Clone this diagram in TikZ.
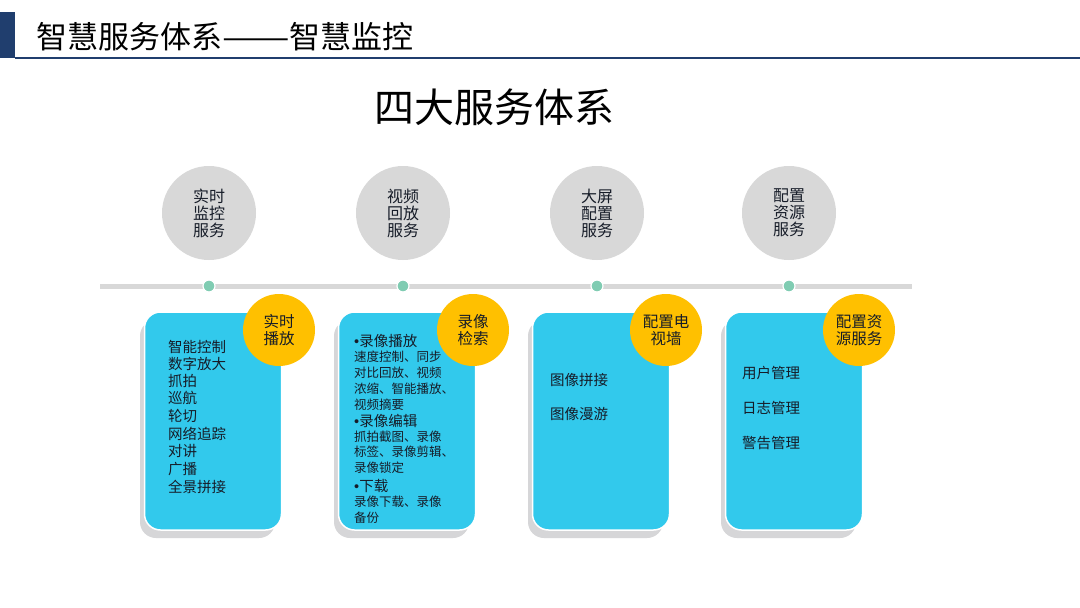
\documentclass[tikz,border=0pt]{standalone}
\usepackage{fontspec}
\setmainfont{Noto Sans CJK SC}
\newfontfamily\latinfont{Liberation Sans}
\usetikzlibrary{positioning}
\definecolor{navy}{RGB}{32,62,110}
\definecolor{discgray}{RGB}{216,216,216}
\definecolor{shadowgray}{RGB}{214,214,216}
\definecolor{cardcyan}{RGB}{50,201,236}
\definecolor{badgegold}{RGB}{255,192,0}
\definecolor{dotteal}{RGB}{128,204,178}
\definecolor{inktext}{RGB}{22,28,40}

\newcommand{\bul}{{\latinfont •}}

\tikzset{
  disc/.style={circle,fill=discgray,minimum size=94pt,inner sep=0pt,align=center,
    font=\fontsize{16}{17}\selectfont,text=inktext},
  card/.style={rounded corners=16pt,fill=cardcyan,draw=white,line width=1.5pt,
    minimum width=137pt,minimum height=218pt,inner sep=0pt},
  badge/.style={circle,fill=badgegold,minimum size=72pt,inner sep=0pt,align=center,
    font=\fontsize{15.5}{16.5}\selectfont,text=inktext},
  timedot/.style={circle,fill=dotteal,draw=white,line width=1.2pt,minimum size=12pt,inner sep=0pt},
  itembig/.style={anchor=west,inner sep=0pt,font=\fontsize{14.5}{15}\selectfont,text=inktext},
  itemsmall/.style={anchor=west,inner sep=0pt,font=\fontsize{12.5}{13}\selectfont,text=inktext}
}

\begin{document}
\begin{tikzpicture}[x=1pt,y=-1pt]

	\useasboundingbox[fill=white] (0,0) rectangle (1080,608);

	% header
	\fill[navy] (0,12) rectangle (15,58);
	\draw[navy,line width=1.8pt] (15,58)--(1080,58);
	\node[anchor=west,inner sep=0pt,font=\fontsize{31}{32}\selectfont] (head) at (36,37)
	{智慧服务体系\scalebox{1.3}[1]{——}智慧监控};

	\node[inner sep=0pt,font=\fontsize{40}{41}\selectfont] (bigtitle) at (494,107)
	{四大服务体系};

	% service discs
	\foreach \i/\x/\t in {1/209/{实时\\监控\\服务},2/403/{视频\\回放\\服务},
		3/597/{大屏\\配置\\服务},4/789/{配置\\资源\\服务}}
	\node[disc] (disc\i) at (\x,213) {\t};

	% time line
	\coordinate (lineL) at (100,286);
	\coordinate (lineR) at (912,286);
	\draw[discgray,line width=5pt] (lineL)--(lineR);
	\foreach \i/\x in {1/209,2/403,3/597,4/789}
	\node[timedot] (dot\i) at (\x,286) {};

	% cards
	\foreach \i/\cx/\bx/\t in {1/213/279/{实时\\播放},2/407/473/{录像\\检索},
		3/601/666/{配置电\\视墙},4/794/859/{配置资\\源服务}}
	{
		\fill[shadowgray,rounded corners=16pt] (\cx-73,320) rectangle (\cx+62,538);
		\node[card] (card\i) at (\cx,421) {};
		\node[badge] (badge\i) at (\bx,330) {\t};
	}

	% card 1
	\foreach \t/\y [count=\n] in {智能控制/347,数字放大/364,抓拍/381,巡航/398,轮切/416,
		网络追踪/434,对讲/451,广播/469,全景拼接/487}
	\node[itembig] (live\n) at (168,\y) {\t};

	% card 2
	\node[itembig] (play) at (354,341) {\bul 录像播放};
	\foreach \t/\y [count=\n] in {速度控制、同步/357,对比回放、视频/373,
		浓缩、智能播放、/389,视频摘要/405}
	\node[itemsmall] (playsub\n) at (354,\y) {\t};
	\node[itembig] (edit) at (354,421) {\bul 录像编辑};
	\foreach \t/\y [count=\n] in {抓拍截图、录像/437,标签、录像剪辑、/452,录像锁定/468}
	\node[itemsmall] (editsub\n) at (354,\y) {\t};
	\node[itembig] (down) at (354,486) {\bul 下载};
	\foreach \t/\y [count=\n] in {录像下载、录像/502,备份/518}
	\node[itemsmall] (downsub\n) at (354,\y) {\t};

	% card 3
	\node[itembig] (mosaic) at (550,380) {图像拼接};
	\node[itembig] (roam) at (550,414) {图像漫游};

	% card 4
	\foreach \t/\y [count=\n] in {用户管理/373,日志管理/408,警告管理/443}
	\node[itembig] (admin\n) at (742,\y) {\t};

\end{tikzpicture}
\end{document}
